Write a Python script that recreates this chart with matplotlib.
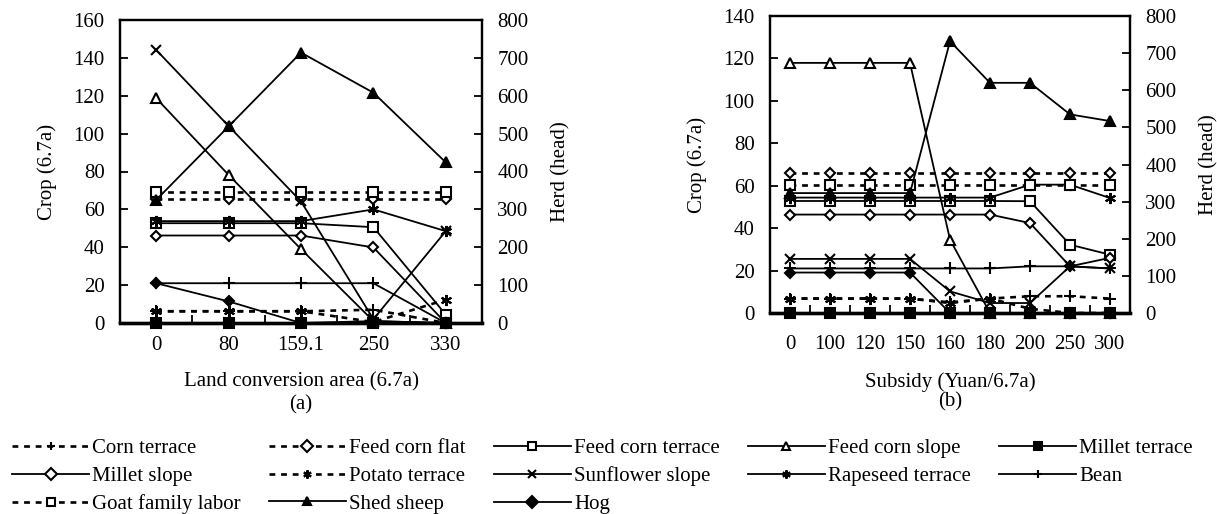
import numpy as np
import matplotlib
matplotlib.use("Agg")
import matplotlib.pyplot as plt
from matplotlib.lines import Line2D

plt.rcParams["font.family"] = ["Liberation Serif", "DejaVu Serif"]

# ---- panel (a): land conversion area ----
area_labels = ["0", "80", "159.1", "250", "330"]
a_corn_terrace = [6.2, 6.2, 6.2, 7.0, 0.0]
a_feed_corn_flat = [65.4, 65.4, 65.4, 65.4, 65.4]
a_feed_corn_terrace = [52.7, 52.7, 52.7, 50.6, 4.4]
a_feed_corn_slope = [118.7, 78.2, 39.0, 1.0, 0.0]
a_millet_terrace = [0, 0, 0, 0, 0]
a_millet_slope = [46.2, 46.2, 46.2, 39.9, 0.0]
a_potato_terrace = [6.2, 6.2, 6.2, 0.5, 12.3]
a_sunflower_slope = [144.2, 104.0, 64.2, 2.0, 48.5]
a_rapeseed_terrace = [53.8, 53.8, 53.8, 60.0, 48.5]
a_bean = [21.0, 21.0, 21.0, 21.0, 0.0]
# herd (head)
a_goat_labor = [347, 347, 347, 347, 347]
a_shed_sheep = [325, 519, 714, 608, 424]
a_hog = [105, 57, 0, 5, 0]

# ---- panel (b): subsidy ----
subsidy_labels = ["0", "100", "120", "150", "160", "180", "200", "250", "300"]
b_corn_terrace = [6.8, 6.8, 6.8, 6.8, 5.0, 6.8, 7.9, 7.9, 6.8]
b_feed_corn_flat = [66, 66, 66, 66, 66, 66, 66, 66, 66]
b_feed_corn_terrace = [52.8, 52.8, 52.8, 52.8, 52.8, 52.8, 52.7, 32.2, 27.5]
b_feed_corn_slope = [117.9, 117.9, 117.9, 117.9, 34.6, 0, 0, 0, 0]
b_millet_terrace = [0, 0, 0, 0, 0, 0, 0, 0, 0]
b_millet_slope = [46.4, 46.4, 46.4, 46.4, 46.4, 46.4, 42.4, 22.0, 26.0]
b_potato_terrace = [6.8, 6.8, 6.8, 6.8, 4.7, 6.8, 2.0, 0, 0]
b_sunflower_slope = [25.5, 25.5, 25.5, 25.5, 10.2, 4.7, 4.7, 22.0, 21.0]
b_rapeseed_terrace = [54.4, 54.4, 54.4, 54.4, 54.4, 54.4, 60.5, 60.5, 54.2]
b_bean = [21.0, 21.0, 21.0, 21.0, 21.0, 21.0, 22.0, 22.0, 21.0]
# herd (head)
b_goat_labor = [346, 346, 346, 346, 346, 346, 346, 346, 346]
b_shed_sheep = [323, 323, 323, 323, 732, 620, 620, 535, 517]
b_hog = [109, 109, 109, 109, 0, 0, 0, 0, 0]

DASH = (0, (2.2, 2.2))
ASTER = (6, 2, 0)

# name -> linestyle, marker, filled
styles = {
    "Corn terrace": (DASH, "+", False),
    "Feed corn flat": (DASH, "D", False),
    "Feed corn terrace": ("-", "s", False),
    "Feed corn slope": ("-", "^", False),
    "Millet terrace": ("-", "s", True),
    "Millet slope": ("-", "D", False),
    "Potato terrace": (DASH, ASTER, False),
    "Sunflower slope": ("-", "x", False),
    "Rapeseed terrace": ("-", ASTER, False),
    "Bean": ("-", "+", False),
    "Goat family labor": (DASH, "s", False),
    "Shed sheep": ("-", "^", True),
    "Hog": ("-", "D", True),
}
SIZES = {"D": 5.5, "s": 6.5, "^": 7.5, "+": 8, "x": 7, ASTER: 8}


def draw(ax, name, vals):
    ls, mk, filled = styles[name]
    lw = 1.9 if ls is DASH else 1.3
    ax.plot(range(len(vals)), vals, color="black", linestyle=ls, linewidth=lw,
            marker=mk, markersize=SIZES[mk], markeredgewidth=1.5,
            markerfacecolor="black" if filled else "white",
            markeredgecolor="black", label=name, clip_on=False)


def setup(ax, ax2, labels, ymax, xpad):
    n = len(labels)
    ax.set_xlim(-0.5, n - 0.5)
    ax.set_ylim(0, ymax)
    ax.set_yticks(np.arange(0, ymax + 1, 20))
    ax2.set_ylim(0, 800)
    ax2.set_yticks(np.arange(0, 801, 100))
    ax.set_xticks(range(n))
    ax.set_xticklabels(labels)
    ax.set_xticks(np.arange(0.5, n - 1, 1), minor=True)
    ax.tick_params(axis="x", which="major", length=0, pad=xpad, labelsize=15)
    ax.tick_params(axis="x", which="minor", direction="in", length=6, width=1.3)
    ax.tick_params(axis="y", direction="in", length=6, width=1.3, pad=11, labelsize=15)
    ax2.tick_params(axis="y", direction="in", length=6, width=1.3, pad=11, labelsize=15)
    for a in (ax, ax2):
        for s in a.spines.values():
            s.set_linewidth(1.6)
        a.spines["bottom"].set_linewidth(2.4)
    ax.set_ylabel("Crop (6.7a)", fontsize=15, labelpad=12)
    ax2.set_ylabel("Herd (head)", fontsize=15, labelpad=16)


fig = plt.figure(figsize=(12.17, 5.14), dpi=100)
fig.patch.set_facecolor("white")

axA = fig.add_axes([120 / 1217, 1 - 323 / 514, 362 / 1217, 303 / 514])
axA2 = axA.twinx()
axB = fig.add_axes([770 / 1217, 1 - 313 / 514, 360 / 1217, 297 / 514])
axB2 = axB.twinx()

crop_a = [
    ("Corn terrace", a_corn_terrace), ("Feed corn flat", a_feed_corn_flat),
    ("Feed corn terrace", a_feed_corn_terrace), ("Feed corn slope", a_feed_corn_slope),
    ("Millet terrace", a_millet_terrace), ("Millet slope", a_millet_slope),
    ("Potato terrace", a_potato_terrace), ("Sunflower slope", a_sunflower_slope),
    ("Rapeseed terrace", a_rapeseed_terrace), ("Bean", a_bean),
]
herd_a = [("Goat family labor", a_goat_labor), ("Shed sheep", a_shed_sheep), ("Hog", a_hog)]
crop_b = [
    ("Corn terrace", b_corn_terrace), ("Feed corn flat", b_feed_corn_flat),
    ("Feed corn terrace", b_feed_corn_terrace), ("Feed corn slope", b_feed_corn_slope),
    ("Millet terrace", b_millet_terrace), ("Millet slope", b_millet_slope),
    ("Potato terrace", b_potato_terrace), ("Sunflower slope", b_sunflower_slope),
    ("Rapeseed terrace", b_rapeseed_terrace), ("Bean", b_bean),
]
herd_b = [("Goat family labor", b_goat_labor), ("Shed sheep", b_shed_sheep), ("Hog", b_hog)]

for name, vals in crop_a:
    draw(axA, name, vals)
for name, vals in herd_a:
    draw(axA2, name, vals)
for name, vals in crop_b:
    draw(axB, name, vals)
for name, vals in herd_b:
    draw(axB2, name, vals)

setup(axA, axA2, area_labels, 160, 9)
setup(axB, axB2, subsidy_labels, 140, 16)
axA.set_xlabel("Land conversion area (6.7a)", fontsize=15, labelpad=13)
axB.set_xlabel("Subsidy (Yuan/6.7a)", fontsize=15, labelpad=13)
fig.text(301 / 1217, 1 - 405 / 514, "(a)", ha="center", va="center", fontsize=15)
fig.text(950 / 1217, 1 - 402 / 514, "(b)", ha="center", va="center", fontsize=15)

# legend, laid out row by row
order = ["Corn terrace", "Millet slope", "Goat family labor",
         "Feed corn flat", "Potato terrace", "Shed sheep",
         "Feed corn terrace", "Sunflower slope", "Hog",
         "Feed corn slope", "Rapeseed terrace",
         "Millet terrace", "Bean"]
handles = []
for name in order:
    ls, mk, filled = styles[name]
    handles.append(Line2D([], [], color="black", linestyle=ls,
                          linewidth=1.9 if ls is DASH else 1.3, marker=mk,
                          markersize=6, markeredgewidth=1.5,
                          markerfacecolor="black" if filled else "white",
                          markeredgecolor="black"))
fig.legend(handles, order, loc="upper left", bbox_to_anchor=(0.003, 1 - 430 / 514),
           ncol=5, frameon=False, fontsize=15, handlelength=3.7, handletextpad=0.15,
           columnspacing=1.35, labelspacing=0.4, numpoints=1, borderaxespad=0)

fig.savefig("out.png", dpi=100, facecolor="white")
